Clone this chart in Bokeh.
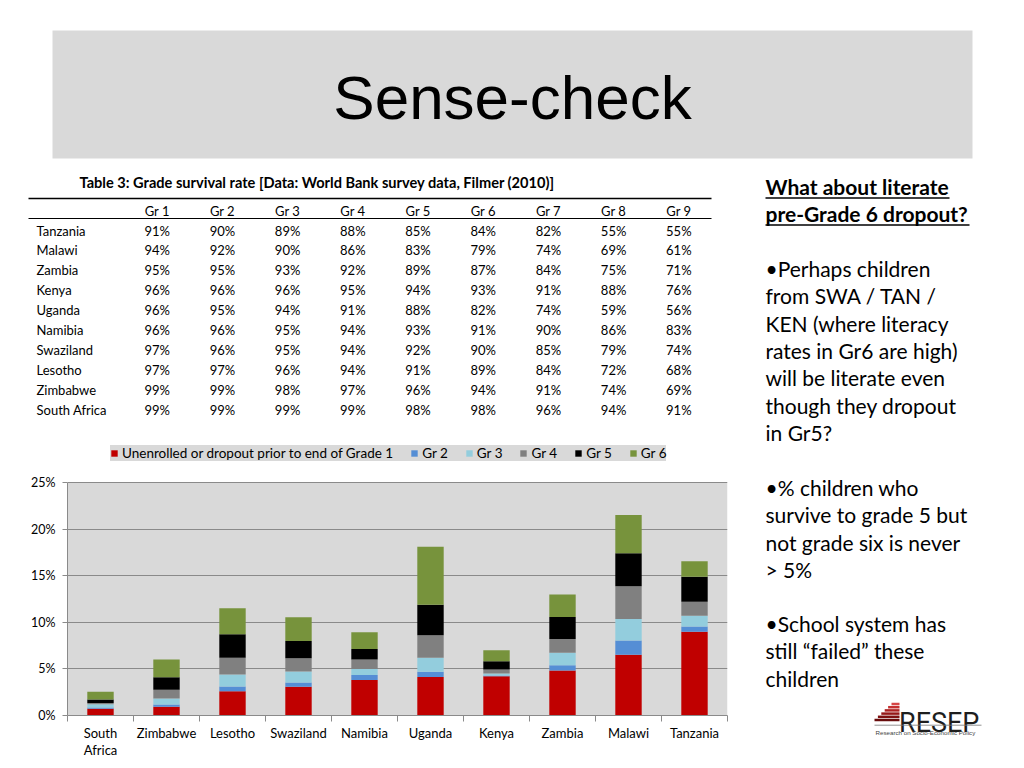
from bokeh.plotting import figure
from bokeh.models import (ColumnDataSource, Range1d, FixedTicker, PrintfTickFormatter,
                          Legend, LegendItem, BoxAnnotation)
from bokeh.layouts import column, row
from bokeh.core.properties import value
from bokeh.embed import file_html
from bokeh.resources import INLINE

# ------------------------------------------------------------------ data
slide_title = "Sense-check"

table_caption = "Table 3: Grade survival rate [Data: World Bank survey data, Filmer (2010)]"
table_grades = ["Gr 1", "Gr 2", "Gr 3", "Gr 4", "Gr 5", "Gr 6", "Gr 7", "Gr 8", "Gr 9"]
table_countries = ["Tanzania", "Malawi", "Zambia", "Kenya", "Uganda", "Namibia",
                   "Swaziland", "Lesotho", "Zimbabwe", "South Africa"]
surv_tanzania = [91, 90, 89, 88, 85, 84, 82, 55, 55]
surv_malawi = [94, 92, 90, 86, 83, 79, 74, 69, 61]
surv_zambia = [95, 95, 93, 92, 89, 87, 84, 75, 71]
surv_kenya = [96, 96, 96, 95, 94, 93, 91, 88, 76]
surv_uganda = [96, 95, 94, 91, 88, 82, 74, 59, 56]
surv_namibia = [96, 96, 95, 94, 93, 91, 90, 86, 83]
surv_swaziland = [97, 96, 95, 94, 92, 90, 85, 79, 74]
surv_lesotho = [97, 97, 96, 94, 91, 89, 84, 72, 68]
surv_zimbabwe = [99, 99, 98, 97, 96, 94, 91, 74, 69]
surv_south_africa = [99, 99, 99, 99, 98, 98, 96, 94, 91]

chart_countries = ["South Africa", "Zimbabwe", "Lesotho", "Swaziland", "Namibia",
                   "Uganda", "Kenya", "Zambia", "Malawi", "Tanzania"]
chart_labels = ["South\nAfrica", "Zimbabwe", "Lesotho", "Swaziland", "Namibia",
                "Uganda", "Kenya", "Zambia", "Malawi", "Tanzania"]
# percent of cohort leaving at each stage
drop_gr1 = [0.72, 0.93, 2.61, 3.08, 3.80, 4.12, 4.22, 4.83, 6.52, 8.99]
drop_gr2 = [0.14, 0.25, 0.50, 0.47, 0.54, 0.57, 0.07, 0.57, 1.54, 0.57]
drop_gr3 = [0.36, 0.64, 1.29, 1.18, 0.64, 1.50, 0.21, 1.32, 2.29, 1.15]
drop_gr4 = [0.11, 0.93, 1.79, 1.40, 1.04, 2.43, 0.43, 1.50, 3.51, 1.50]
drop_gr5 = [0.39, 1.36, 2.54, 1.86, 1.11, 3.26, 0.90, 2.36, 3.54, 2.69]
drop_gr6 = [0.82, 1.90, 2.79, 2.54, 1.79, 6.23, 1.18, 2.40, 4.12, 1.65]
legend_labels = ["Unenrolled or dropout prior to end of Grade 1",
                 "Gr 2", "Gr 3", "Gr 4", "Gr 5", "Gr 6"]
y_tick_values = [0, 5, 10, 15, 20, 25]

side_heading = ["What about literate", "pre-Grade 6 dropout?"]
side_para1 = ["\u2022Perhaps children", "from SWA / TAN /", "KEN (where literacy",
              "rates in Gr6 are high)", "will be literate even", "though they dropout",
              "in Gr5?"]
side_para2 = ["\u2022% children who", "survive to grade 5 but", "not grade six is never", "> 5%"]
side_para3 = ["\u2022School system has", "still \u201cfailed\u201d these", "children"]
logo_text = "RESEP"
logo_sub = "Research on Socio-Economic Policy"

# ------------------------------------------------------------------ styles
FONT = value("Lato")
FONT_NAME = "Lato"
BANNER = "#d9d9d9"
SERIES_COLORS = ["#c00000", "#558ed5", "#93cddd", "#808080", "#000000", "#77933c"]
LINE_STEP = 27.33


def canvas(w, h):
    p = figure(width=w, height=h, x_range=Range1d(0, w), y_range=Range1d(h, 0),
               x_axis_type=None, y_axis_type=None, toolbar_location=None,
               output_backend="svg", min_border=0, title=None)
    p.outline_line_color = None
    p.grid.visible = False
    return p


# ------------------------------------------------------------------ header banner (page y 0..168)
header = canvas(1024, 168)
header.quad(left=[52], right=[972], top=[30], bottom=[158], fill_color=BANNER, line_color=None)
header.text(x=[512], y=[97], text=[slide_title], text_align="center", text_baseline="middle",
            text_font=value("Liberation Sans"), text_font_size="62px", text_color="black")

# ------------------------------------------------------------------ table (page x 0..760, y 168..425)
table = canvas(760, 257)
OY = 168
table.text(x=[79], y=[182 - OY], text=[table_caption], text_baseline="middle", text_font=FONT,
           text_font_style="bold", text_font_size="14.6px", text_color="black")
table.segment(x0=[28], x1=[711], y0=[198 - OY], y1=[198 - OY], line_color="black", line_width=1.6)
table.segment(x0=[28], x1=[711], y0=[218 - OY], y1=[218 - OY], line_color="black", line_width=1.2)
col_x = [156.7 + 65.2 * j for j in range(len(table_grades))]
table.text(x=col_x, y=[210 - OY] * len(table_grades), text=table_grades, text_align="center",
           text_baseline="middle", text_font=FONT, text_font_size="13px", text_color="black")
rows = [surv_tanzania, surv_malawi, surv_zambia, surv_kenya, surv_uganda, surv_namibia,
        surv_swaziland, surv_lesotho, surv_zimbabwe, surv_south_africa]
row_y = [230 - OY + 19.93 * i for i in range(len(table_countries))]
table.text(x=[36] * len(table_countries), y=row_y, text=table_countries, text_baseline="middle",
           text_font=FONT, text_font_size="13px", text_color="black")
cx, cy, ct = [], [], []
for i, vals in enumerate(rows):
    for j, v in enumerate(vals):
        cx.append(col_x[j])
        cy.append(row_y[i])
        ct.append(f"{v}%")
table.text(x=cx, y=cy, text=ct, text_align="center", text_baseline="middle",
           text_font=FONT, text_font_size="13px", text_color="black")

# ------------------------------------------------------------------ chart (page x 0..760, y 425..768)
# frame spans page y 441..715; the plotted scale (0..25 %) occupies its lower 233 px,
# the strip above it holds the legend.
Y_MAX = y_tick_values[-1]
frame_h, plot_h = 274.0, 233.0
idx = list(range(len(chart_countries)))
stack_keys = ["gr1", "gr2", "gr3", "gr4", "gr5", "gr6"]
src = ColumnDataSource(dict(x=idx, gr1=drop_gr1, gr2=drop_gr2, gr3=drop_gr3,
                            gr4=drop_gr4, gr5=drop_gr5, gr6=drop_gr6))
chart = figure(width=760, height=343, x_range=Range1d(-0.5, len(idx) - 0.5),
               y_range=Range1d(0, Y_MAX * frame_h / plot_h), toolbar_location=None,
               output_backend="svg", min_border_left=67, min_border_right=33,
               min_border_bottom=53, min_border_top=16, title=None)
chart.add_layout(BoxAnnotation(bottom=0, top=Y_MAX, fill_color=BANNER, fill_alpha=1.0,
                               line_color=None, level="image"))
renderers = chart.vbar_stack(stack_keys, x="x", width=0.4, fill_color=SERIES_COLORS,
                             line_color=None, source=src)
chart.background_fill_color = "white"
chart.outline_line_color = None
chart.xgrid.visible = False
chart.ygrid.grid_line_color = "#8a8a8a"
chart.ygrid.grid_line_width = 1

xa = chart.xaxis[0]
xa.ticker = FixedTicker(ticks=idx, minor_ticks=[i - 0.5 for i in range(len(idx) + 1)])
xa.major_label_overrides = {i: lab for i, lab in enumerate(chart_labels)}
xa.major_tick_out = 0
xa.major_tick_in = 0
xa.minor_tick_out = 6
xa.minor_tick_in = 0
xa.minor_tick_line_color = "#8a8a8a"
xa.axis_line_color = "#8a8a8a"
xa.major_label_standoff = 3
xa.major_label_text_font = FONT_NAME
xa.major_label_text_font_size = "13px"
xa.major_label_text_color = "black"
xa.major_label_text_line_height = 1.1

ya = chart.yaxis[0]
ya.ticker = FixedTicker(ticks=y_tick_values)
ya.formatter = PrintfTickFormatter(format="%d%%")
ya.bounds = (0, Y_MAX)
ya.major_tick_out = 5
ya.major_tick_in = 0
ya.minor_tick_line_color = None
ya.major_tick_line_color = "#8a8a8a"
ya.axis_line_color = "#8a8a8a"
ya.major_label_standoff = 7
ya.major_label_text_font = FONT_NAME
ya.major_label_text_font_size = "12.5px"
ya.major_label_text_color = "black"

legend = Legend(items=[LegendItem(label=lab, renderers=[r]) for lab, r in zip(legend_labels, renderers)],
                orientation="horizontal", location=(43, frame_h - 20), margin=0, padding=5,
                spacing=17, glyph_width=8, glyph_height=8, label_standoff=4,
                label_height=15, label_width=10,
                label_text_font=FONT_NAME, label_text_font_size="13.5px", label_text_color="black",
                background_fill_color=BANNER, background_fill_alpha=1.0,
                border_line_color=None)
chart.add_layout(legend)

# ------------------------------------------------------------------ side text + logo (page x 760..1024, y 168..768)
side = canvas(264, 600)
SX = 5
side.text(x=[SX, SX], y=[18, 45], text=side_heading, text_baseline="middle", text_font=FONT,
          text_font_style="bold", text_font_size="21px", text_color="black")
side.segment(x0=[SX, SX], x1=[189, 209], y0=[29.5, 56.5], y1=[29.5, 56.5],
             line_color="black", line_width=1.5)
for start, para in ((100, side_para1), (319, side_para2), (455, side_para3)):
    side.text(x=[SX] * len(para), y=[start + LINE_STEP * i for i in range(len(para))],
              text=para, text_baseline="middle", text_font=FONT, text_font_size="21px",
              text_color="black")

stair_left = [131, 127.6, 124.2, 120.8, 117.4, 114]
stair_y = [535.5, 538.7, 541.9, 545.1, 548.3, 551.5]
stair_col = ["#d64545", "#c43030", "#ad2222", "#951818", "#7e1111", "#680c0c"]
side.hbar(y=stair_y, left=stair_left, right=[139] * 6, height=2.5, fill_color=stair_col,
          line_color=None)
side.text(x=[138.5], y=[554], text=[logo_text], text_baseline="alphabetic",
          text_font=value("Roboto"), text_font_size="27px", text_color="#1e1e1e")
side.segment(x0=[114], x1=[221], y0=[556.7], y1=[556.7], line_color="#777777", line_width=0.8)
side.text(x=[115], y=[563.5], text=[logo_sub], text_baseline="middle",
          text_font=value("Liberation Sans"), text_font_size="6.2px", text_color="#444444")

layout = column(header, row(column(row(table), row(chart)), side))

open("out.html", "w").write(file_html(layout, INLINE))
